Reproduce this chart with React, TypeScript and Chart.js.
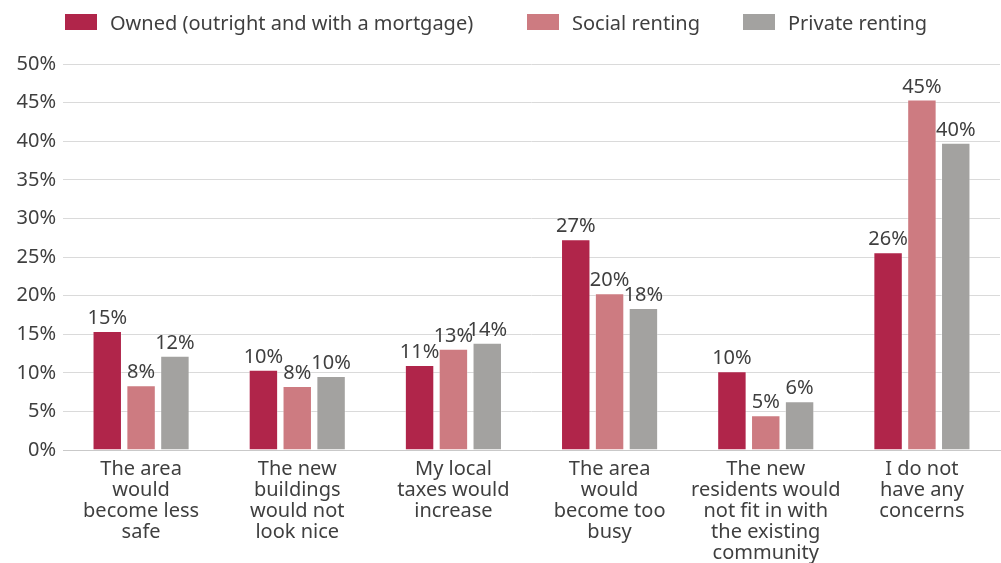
import React, { useEffect, useRef } from "react";
import { Chart, registerables } from "chart.js";

Chart.register(...registerables);

const categories: string[][] = [
  ["The area", "would", "become less", "safe"],
  ["The new", "buildings", "would not", "look nice"],
  ["My local", "taxes would", "increase"],
  ["The area", "would", "become too", "busy"],
  ["The new", "residents would", "not fit in with", "the existing", "community"],
  ["I do not", "have any", "concerns"],
];

const ownedValues = [15.4, 10.4, 11.0, 27.3, 10.2, 25.6];
const socialValues = [8.4, 8.3, 13.1, 20.3, 4.5, 45.4];
const privateValues = [12.2, 9.6, 13.9, 18.4, 6.3, 39.8];

const seriesNames = ["Owned (outright and with a mortgage)", "Social renting", "Private renting"];
const seriesColors = ["#b0254a", "#cd7b81", "#a3a2a0"];

const yTicks = [0, 5, 10, 15, 20, 25, 30, 35, 40, 45, 50];

const FONT = "'Noto Sans', 'Open Sans', sans-serif";
const TEXT = "#3f3f3f";

const valueLabelPlugin = {
  id: "valueLabels",
  afterDatasetsDraw(chart: any) {
    const ctx = chart.ctx;
    ctx.save();
    ctx.font = `20px ${FONT}`;
    ctx.fillStyle = TEXT;
    ctx.textAlign = "center";
    ctx.textBaseline = "alphabetic";
    chart.data.datasets.forEach((ds: any, di: number) => {
      const meta = chart.getDatasetMeta(di);
      meta.data.forEach((bar: any, i: number) => {
        ctx.fillText(`${Math.round(ds.data[i])}%`, bar.x, bar.y - 7);
      });
    });
    ctx.restore();
  },
};

const legendLeft = [65, 527, 743];

export default function App() {
  const canvasRef = useRef<HTMLCanvasElement | null>(null);

  useEffect(() => {
    document.body.style.margin = "0";
    const canvas = canvasRef.current;
    if (!canvas) return;
    const chart = new Chart(canvas, {
      type: "bar",
      data: {
        labels: categories,
        datasets: [ownedValues, socialValues, privateValues].map((d, i) => ({
          label: seriesNames[i],
          data: d,
          backgroundColor: seriesColors[i],
          borderColor: "rgba(255,255,255,0.35)",
          borderWidth: 1,
          barPercentage: 0.87,
          categoryPercentage: 0.65,
        })),
      },
      options: {
        animation: false,
        responsive: false,
        maintainAspectRatio: false,
        layout: { padding: { top: 64, right: 1, bottom: 0, left: 0 } },
        plugins: {
          legend: { display: false },
          tooltip: { enabled: false },
        },
        scales: {
          x: {
            grid: { display: false },
            border: { display: true, color: "#c9c9c9", width: 1 },
            ticks: {
              color: TEXT,
              font: { family: FONT, size: 20, lineHeight: 1.05 },
              padding: 1,
              maxRotation: 0,
              autoSkip: false,
            },
            afterFit: (scale: any) => {
              scale.height = 113;
            },
          },
          y: {
            min: 0,
            max: 50,
            afterBuildTicks: (scale: any) => {
              scale.ticks = yTicks.map((v) => ({ value: v }));
            },
            grid: { color: "#dadada", lineWidth: 1, drawTicks: false },
            border: { display: false },
            ticks: {
              color: TEXT,
              font: { family: FONT, size: 20 },
              padding: 7,
              callback: (v: any) => `${v}%`,
            },
            afterFit: (scale: any) => {
              scale.width = 63;
            },
          },
        },
      },
      plugins: [valueLabelPlugin],
    } as any);
    return () => chart.destroy();
  }, []);

  return (
    <div style={{ position: "relative", width: 1001, height: 563, fontFamily: FONT }}>
      <canvas ref={canvasRef} width={1001} height={563} style={{ display: "block" }} />
      {seriesNames.map((name, i) => (
        <div
          key={name}
          style={{
            position: "absolute",
            left: legendLeft[i],
            top: 8,
            height: 28,
            display: "flex",
            alignItems: "center",
            whiteSpace: "nowrap",
            color: TEXT,
            fontSize: 20,
          }}
        >
          <span
            style={{
              display: "inline-block",
              width: 32,
              height: 16,
              background: seriesColors[i],
              marginRight: 13,
            }}
          />
          <span>{name}</span>
        </div>
      ))}
    </div>
  );
}
